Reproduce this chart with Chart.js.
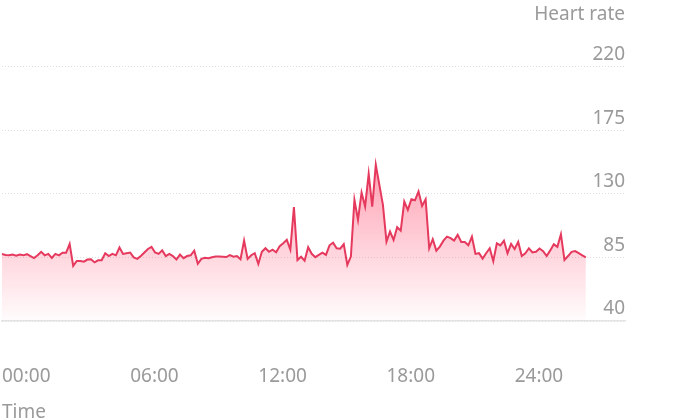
<!DOCTYPE html>
<html>
<head>
<meta charset="utf-8">
<script src="https://cdn.jsdelivr.net/npm/chart.js"></script>
<style>
  html, body { margin: 0; padding: 0; background: #ffffff; }
</style>
</head>
<body>
<canvas id="grafico" width="674" height="420"></canvas>
<script>
// heart rate, one sample every 10 minutes
const heartRate = [
  87.5, 86.8, 86.5, 87, 86.3, 87, 86.5, 87.3, 86, 84.5,
  86.5, 89, 86.5, 87.5, 84.6, 87.5, 86.5, 88.3, 88.3, 94.5,
  79, 82.5, 82.5, 82, 83.5, 83.7, 81.5, 83, 83, 88,
  86, 87.5, 86.5, 92, 87.5, 88, 88.5, 85, 84, 86,
  88.5, 91, 92.5, 88.5, 87.5, 90, 86, 87.5, 86, 83.5,
  87, 84.5, 86, 86.5, 89.8, 80.5, 84, 84.7, 84.5, 85.2,
  85.7, 85.7, 85.5, 85.3, 86.6, 85.5, 86, 83.7, 97, 84,
  86.6, 88, 80.4, 89, 91.5, 89, 90.5, 88.7, 93, 95,
  97.5, 90.5, 120.6, 83.2, 85.5, 82.7, 92.2, 87.6, 85.2, 86.8,
  88.4, 86.8, 93.6, 95.5, 91.5, 91.2, 94.4, 79.7, 85.6, 125.8,
  111.6, 131, 121, 144.2, 121, 150.6, 136.4, 122.2, 96.2, 103.3,
  97.4, 106.4, 104, 124.6, 118.7, 126.2, 125.5, 131.7, 121.5, 126.2,
  91.5, 97.9, 89.8, 92.7, 96.9, 99.7, 98.7, 96.9, 101, 96,
  96, 93.6, 99.7, 87.5, 88, 84.2, 88, 91.5, 82.3, 95,
  93.5, 96.9, 88, 94.6, 91, 96, 86, 88, 91.5, 88.5,
  89, 91.3, 89.5, 86, 90, 94.3, 92.5, 101.4, 83.2, 86,
  89, 89.5, 88, 86.5, 85
];
const tickLabels = ["00:00", "06:00", "12:00", "18:00", "24:00"];
const yTicks = [40, 85, 130, 175, 220];
const slotsPerLabel = 36;   // 6 hours of 10 minute slots
const totalSlots = 176;     // axis runs a bit past the last sample

let slots = [];
for (let i = 0; i < totalSlots; i++) {
  let m = i * 10;
  slots.push(String(Math.floor(m / 60)).padStart(2, "0") + ":" + String(m % 60).padStart(2, "0"));
}

const grigio = "#9a9a9a";
const font = { family: "'Noto Sans', sans-serif", size: 19, weight: "normal" };

function riempimento(context) {
  const chart = context.chart;
  const area = chart.chartArea;
  if (!area) return null;
  const top = chart.scales.y.getPixelForValue(Math.max(...heartRate));
  const g = chart.ctx.createLinearGradient(0, top, 0, area.bottom);
  g.addColorStop(0, "rgba(255, 100, 130, 0.6)");
  g.addColorStop(1, "rgba(255, 100, 130, 0.02)");
  return g;
}

let ctx = document.getElementById("grafico").getContext("2d");
new Chart(ctx, {
  type: "line",
  data: {
    labels: slots,
    datasets: [
      {
        data: heartRate,
        borderColor: "#e6395e",
        borderWidth: 2,
        pointRadius: 0,
        tension: 0,
        fill: "start",
        backgroundColor: riempimento,
      },
    ],
  },
  options: {
    responsive: false,
    animation: false,
    layout: { padding: { left: 2, right: 49, top: 0, bottom: 0 } },
    plugins: {
      legend: { display: false },
      tooltip: { enabled: false },
      title: {
        display: true,
        text: "Heart rate",
        align: "end",
        color: grigio,
        font: font,
        padding: { top: 3, bottom: 41 },
      },
    },
    scales: {
      x: {
        grid: { display: false, drawTicks: false },
        border: { display: true, color: "#e4e4e4", width: 1.5 },
        ticks: {
          autoSkip: false,
          maxRotation: 0,
          minRotation: 0,
          align: "start",
          padding: 44,
          color: grigio,
          font: font,
          callback: (val, i) => (i % slotsPerLabel === 0 ? tickLabels[i / slotsPerLabel] : ""),
        },
        title: {
          display: true,
          text: "Time",
          align: "start",
          color: grigio,
          font: font,
          padding: { top: 0, bottom: -4 },
        },
        afterFit: (scale) => {
          // keep the axis box to the space the labels really use
          scale.height = 99;
          scale.paddingLeft = 0;
          scale.paddingRight = 0;
        },
      },
      y: {
        position: "right",
        min: yTicks[0],
        max: yTicks[yTicks.length - 1],
        afterBuildTicks: (scale) => {
          scale.ticks = yTicks.map((v) => ({ value: v }));
        },
        grid: { color: "#dedede", lineWidth: 1, drawTicks: false },
        border: { display: false, dash: [1, 2] },
        ticks: {
          mirror: true,
          padding: 0,
          labelOffset: -12,
          color: grigio,
          font: font,
        },
      },
    },
  },
});
</script>
</body>
</html>
